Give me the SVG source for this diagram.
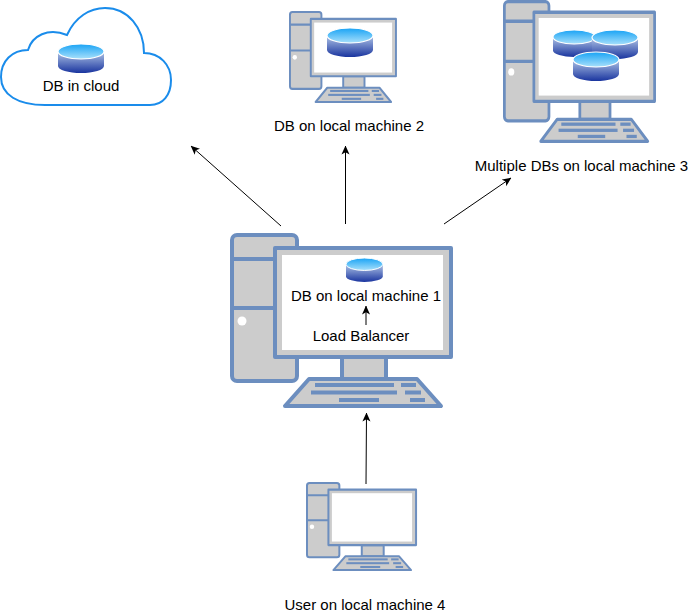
<svg xmlns="http://www.w3.org/2000/svg" width="697" height="616" viewBox="0 0 697 616">
<style>
text{font-family:"Liberation Sans",Arial,sans-serif;font-size:15px;fill:#000;text-anchor:middle}
.pc{fill:#ccc;stroke:#6c8ebf;stroke-width:4;stroke-linejoin:round}
.pk{fill:#6c8ebf;stroke:none}
.cn{fill:none;stroke:#000;stroke-width:1;marker-end:url(#ah)}
</style>
<defs>
<marker id="ah" viewBox="0 0 10 10" refX="9.500" refY="5" markerWidth="9" markerHeight="9" orient="auto" markerUnits="userSpaceOnUse"><path d="M0,0.500 L10,5 L0,9.500 L2.500,5 Z" fill="#000"/></marker>
<linearGradient id="gt" x1="0" y1="0" x2="0" y2="1"><stop offset="0" stop-color="#19a3f5"/><stop offset="1" stop-color="#a8e0fb"/></linearGradient>
<linearGradient id="gb" x1="0" y1="0" x2="0" y2="1"><stop offset="0" stop-color="#b3c8e8"/><stop offset="1" stop-color="#1a359f"/></linearGradient>
<g id="pc">
<rect class="pc" x="2" y="2" width="65" height="146" rx="5"/>
<path class="pc" d="M2,26H67M2,75H67" fill="none"/>
<circle cx="12" cy="88" r="4.500" fill="#fff"/>
<rect class="pc" x="112" y="124" width="44" height="22"/>
<path class="pc" d="M79,146H187L211,173H55Z"/>
<rect class="pk" x="85" y="150" width="79" height="4"/>
<rect class="pk" x="81" y="157.500" width="86" height="4"/>
<rect class="pk" x="109" y="165" width="40" height="4"/>
<rect class="pk" x="171" y="150" width="15" height="4"/>
<rect class="pk" x="175" y="157.500" width="16" height="4"/>
<rect class="pk" x="180" y="165" width="15" height="4"/>
<rect class="pc" x="45" y="15" width="176" height="109"/>
<rect x="52" y="22" width="161" height="95" fill="#fff"/>
</g>
<g id="db">
<path d="M0,7V22A23,7 0 0 0 46,22V7Z" fill="url(#gb)"/>
<ellipse cx="23" cy="7.500" rx="23" ry="7.500" fill="url(#gt)" stroke="#fff" stroke-width="1.200"/>
</g>
</defs>
<g id="cloud">
<path d="M45,105C18,105 1,95 1,77C1,61 12,50 28,50C32,36 48,27 67,35C75,17 90,8 105,8C128,8 144,28 144,53C160,53 171,65 171,80C171,95 163,105 150,105Z" fill="#fff" stroke="#1a8ceb" stroke-width="2"/>
<use href="#db" transform="translate(58,44)"/>
<text x="81" y="91">DB in cloud</text>
</g>
<g id="machine1">
<use href="#pc" transform="translate(230,233)"/>
<use href="#db" transform="translate(346,258) scale(.8,.83)"/>
<text x="366" y="301">DB on local machine 1</text>
<text x="361" y="341">Load Balancer</text>
</g>
<g id="machine2">
<use href="#pc" transform="translate(289,11) scale(.484,.526)"/>
<use href="#db" transform="translate(327,28)"/>
<text x="349" y="131">DB on local machine 2</text>
</g>
<g id="machine3">
<use href="#pc" transform="translate(503,0) scale(.686,.817)"/>
<use href="#db" transform="translate(553,30) scale(.92,.93)"/>
<use href="#db" transform="translate(592,30)"/>
<use href="#db" transform="translate(573,52)"/>
<text x="581.500" y="171">Multiple DBs on local machine 3</text>
</g>
<g id="machine4">
<use href="#pc" transform="translate(306,482) scale(.498,.509)"/>
<text x="365" y="610">User on local machine 4</text>
</g>
<g id="connectors">
<path class="cn" d="M281,226L191,146"/>
<path class="cn" d="M345.500,224V146"/>
<path class="cn" d="M444,224L511,178"/>
<path class="cn" d="M366,484L366.500,413"/>
<path class="cn" d="M366,325V306"/>
</g>
</svg>
